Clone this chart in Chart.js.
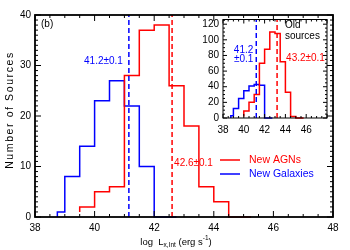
<!DOCTYPE html>
<html lang="en">
<head>
<meta charset="utf-8">
<script src="https://cdn.jsdelivr.net/npm/chart.js@4.4.1/dist/chart.umd.min.js"></script>
<style>
  body { margin:0; background:#fff; }
  #wrap { position:relative; width:350px; height:250px; }
  #mainChart { position:absolute; left:0; top:0; }
  #insetChart { position:absolute; left:190px; top:5px; }
</style>
</head>
<body>
<div id="wrap">
  <canvas id="mainChart" width="350" height="250"></canvas>
  <canvas id="insetChart" width="145" height="135"></canvas>
</div>
<script>
// main panel (new sources), bins of 0.5 dex, value = count from that edge to the next
const galEdges  = [38.75, 39.0, 39.5, 40.0, 40.5, 41.0, 41.5, 42.0, 42.5, 42.75];
const galCounts = [0, 1, 8, 14, 23, 27, 22, 10, 0, 0];
const agnEdges  = [39.5, 40.0, 40.5, 41.0, 41.5, 42.0, 42.5, 43.0, 43.5, 44.0, 44.5, 45.0, 45.25];
const agnCounts = [1, 2, 5, 6, 28, 37, 38, 26, 18, 6, 3, 0, 0];
const galMedian = 41.15;
const agnMedian = 42.6;

// inset (old sources)
const oldGalEdges  = [38.75, 39.0, 39.5, 40.0, 40.5, 41.0, 41.5, 42.0, 42.5, 42.75];
const oldGalCounts = [0, 3, 12, 25, 35, 41, 43, 42, 0, 0];
const oldAgnEdges  = [40.0, 40.5, 41.0, 41.5, 42.0, 42.5, 43.0, 43.5, 44.0, 44.5, 45.0, 45.5, 45.75];
const oldAgnCounts = [2, 9, 20, 30, 70, 88, 110, 108, 72, 33, 2, 0, 0];
const oldGalMedian = 41.2;
const oldAgnMedian = 43.2;

const mainXTicks  = [38, 40, 42, 44, 46, 48];
const mainYTicks  = [0, 10, 20, 30, 40];
const insetXTicks = [38, 40, 42, 44, 46];
const insetYTicks = [0, 20, 40, 60, 80, 100, 120];

const RED = '#ff0000', BLUE = '#0000ff';
const FONT = 'Liberation Sans, Arial, sans-serif';

function steps(edges, counts) {
  return edges.map((x, i) => ({ x: x, y: counts[i] }));
}
function histSet(edges, counts, color) {
  return { data: steps(edges, counts), borderColor: color, borderWidth: 1.5,
           stepped: 'after', pointRadius: 0, fill: false, clip: false };
}
function vline(x, top, color) {
  return { data: [{ x: x, y: 0 }, { x: x, y: top }], borderColor: color, borderWidth: 1.5,
           borderDash: [5, 3], pointRadius: 0, fill: false };
}

// inward ticks on all four sides + box
function frame(xStep, xMajor, yStep, yMajor, lw, big, small) {
  return {
    id: 'frame',
    afterDraw(chart) {
      const ctx = chart.ctx, a = chart.chartArea;
      const xs = chart.scales.x, ys = chart.scales.y;
      ctx.save();
      ctx.strokeStyle = '#000';
      ctx.lineWidth = 1;
      ctx.beginPath();
      for (let v = xs.min; v <= xs.max + 1e-9; v += xStep) {
        const p = xs.getPixelForValue(v);
        const len = Math.abs(v / xMajor - Math.round(v / xMajor)) < 1e-6 ? big : small;
        ctx.moveTo(p, a.bottom); ctx.lineTo(p, a.bottom - len);
        ctx.moveTo(p, a.top); ctx.lineTo(p, a.top + len);
      }
      for (let v = 0; v <= ys.max + 1e-9; v += yStep) {
        const p = ys.getPixelForValue(v);
        const len = Math.abs(v / yMajor - Math.round(v / yMajor)) < 1e-6 ? big : small;
        ctx.moveTo(a.left, p); ctx.lineTo(a.left + len, p);
        ctx.moveTo(a.right, p); ctx.lineTo(a.right - len, p);
      }
      ctx.stroke();
      ctx.lineWidth = lw;
      ctx.strokeRect(a.left, a.top, a.right - a.left, a.bottom - a.top);
      ctx.restore();
    }
  };
}

const mainLabels = {
  id: 'mainLabels',
  afterDraw(chart) {
    const ctx = chart.ctx, a = chart.chartArea;
    const xs = chart.scales.x, ys = chart.scales.y;
    ctx.save();
    ctx.font = '10px ' + FONT;
    ctx.textBaseline = 'middle';

    ctx.fillStyle = '#000';
    ctx.fillText('(b)', a.left + 6, a.top + 9);

    ctx.fillStyle = BLUE;
    ctx.textAlign = 'right';
    ctx.fillText('41.2\u00b10.1', xs.getPixelForValue(galMedian) - 6, ys.getPixelForValue(30.8));
    ctx.fillStyle = RED;
    ctx.textAlign = 'left';
    ctx.fillText('42.6\u00b10.1', xs.getPixelForValue(agnMedian) + 2, ys.getPixelForValue(10.7));

    // legend
    ctx.font = '10.5px ' + FONT;
    ctx.lineWidth = 1.5;
    [['New AGNs', RED, 160], ['New Galaxies', BLUE, 174]].forEach(function (l) {
      ctx.strokeStyle = l[1];
      ctx.beginPath(); ctx.moveTo(220, l[2]); ctx.lineTo(240, l[2]); ctx.stroke();
      ctx.fillStyle = l[1];
      ctx.fillText(l[0], 249, l[2]);
    });

    // y title
    ctx.fillStyle = '#000';
    ctx.save();
    ctx.translate(10, 110);
    ctx.rotate(-Math.PI / 2);
    ctx.textAlign = 'center';
    ctx.font = '10.5px ' + FONT;
    ctx.letterSpacing = '1.6px';
    ctx.fillText('Number of Sources', 0, 0);
    ctx.restore();

    // x title with sub/superscript
    const parts = [['log  L', 9.5, 0], ['x,Int', 6.5, 3], [' (erg s', 9.5, 0], ['-1', 6.5, -4], [')', 9.5, 0]];
    let w = 0;
    parts.forEach(function (p) { ctx.font = p[1] + 'px ' + FONT; w += ctx.measureText(p[0]).width; });
    let x = 176 - w / 2;
    const y = 242;
    ctx.textAlign = 'left';
    parts.forEach(function (p) {
      ctx.font = p[1] + 'px ' + FONT;
      ctx.fillText(p[0], x, y + p[2]);
      x += ctx.measureText(p[0]).width;
    });
    ctx.restore();
  }
};

const insetLabels = {
  id: 'insetLabels',
  afterDraw(chart) {
    const ctx = chart.ctx;
    const xs = chart.scales.x;
    ctx.save();
    ctx.font = '10px ' + FONT;
    ctx.textBaseline = 'middle';
    ctx.fillStyle = '#000';
    ctx.textAlign = 'left';
    ctx.fillText('Old', xs.getPixelForValue(43.95), 20);
    ctx.fillText('sources', xs.getPixelForValue(43.95), 31);
    ctx.fillStyle = BLUE;
    ctx.textAlign = 'right';
    ctx.fillText('41.2', xs.getPixelForValue(oldGalMedian) - 3, 45);
    ctx.fillText('\u00b10.1', xs.getPixelForValue(oldGalMedian) - 3, 54);
    ctx.fillStyle = RED;
    ctx.textAlign = 'left';
    ctx.fillText('43.2\u00b10.1', xs.getPixelForValue(oldAgnMedian) + 9, 53);
    ctx.restore();
  }
};

function tickOpts() {
  return { color: '#000', font: { family: FONT, size: 10 } };
}

new Chart(document.getElementById('mainChart'), {
  type: 'line',
  data: {
    datasets: [
      vline(galMedian, 40, BLUE),
      vline(agnMedian, 40, RED),
      histSet(agnEdges, agnCounts, RED),
      histSet(galEdges, galCounts, BLUE)
    ]
  },
  options: {
    responsive: false, animation: false, devicePixelRatio: 1,
    layout: { padding: { top: 15, right: 17, left: 0, bottom: 0 } },
    plugins: { legend: { display: false }, tooltip: { enabled: false } },
    scales: {
      x: {
        type: 'linear', min: 38, max: 48,
        afterBuildTicks: s => { s.ticks = mainXTicks.map(v => ({ value: v })); },
        afterFit: s => { s.height = 33; },
        grid: { display: false, drawTicks: false }, border: { display: false },
        ticks: Object.assign(tickOpts(), { padding: 5, maxRotation: 0 })
      },
      y: {
        min: 0, max: 40,
        afterBuildTicks: s => { s.ticks = mainYTicks.map(v => ({ value: v })); },
        afterFit: s => { s.width = 35; },
        grid: { display: false, drawTicks: false }, border: { display: false },
        ticks: Object.assign(tickOpts(), { padding: 4 })
      }
    }
  },
  plugins: [frame(0.5, 2, 1, 10, 1.8, 6, 3), mainLabels]
});

new Chart(document.getElementById('insetChart'), {
  type: 'line',
  data: {
    datasets: [
      vline(oldGalMedian, 126, BLUE),
      vline(oldAgnMedian, 126, RED),
      histSet(oldAgnEdges, oldAgnCounts, RED),
      histSet(oldGalEdges, oldGalCounts, BLUE)
    ]
  },
  options: {
    responsive: false, animation: false, devicePixelRatio: 1,
    layout: { padding: { top: 14.5, right: 8, left: 0, bottom: 0 } },
    plugins: { legend: { display: false }, tooltip: { enabled: false } },
    scales: {
      x: {
        type: 'linear', min: 38, max: 48,
        afterBuildTicks: s => { s.ticks = insetXTicks.map(v => ({ value: v })); },
        afterFit: s => { s.height = 22; },
        grid: { display: false, drawTicks: false }, border: { display: false },
        ticks: Object.assign(tickOpts(), { padding: 6, maxRotation: 0 })
      },
      y: {
        min: 0, max: 126,
        afterBuildTicks: s => { s.ticks = insetYTicks.map(v => ({ value: v })); },
        afterFit: s => { s.width = 33; },
        grid: { display: false, drawTicks: false }, border: { display: false },
        ticks: Object.assign(tickOpts(), { padding: 4 })
      }
    }
  },
  plugins: [frame(0.5, 2, 5, 20, 1, 4, 2), insetLabels]
});
</script>
</body>
</html>
